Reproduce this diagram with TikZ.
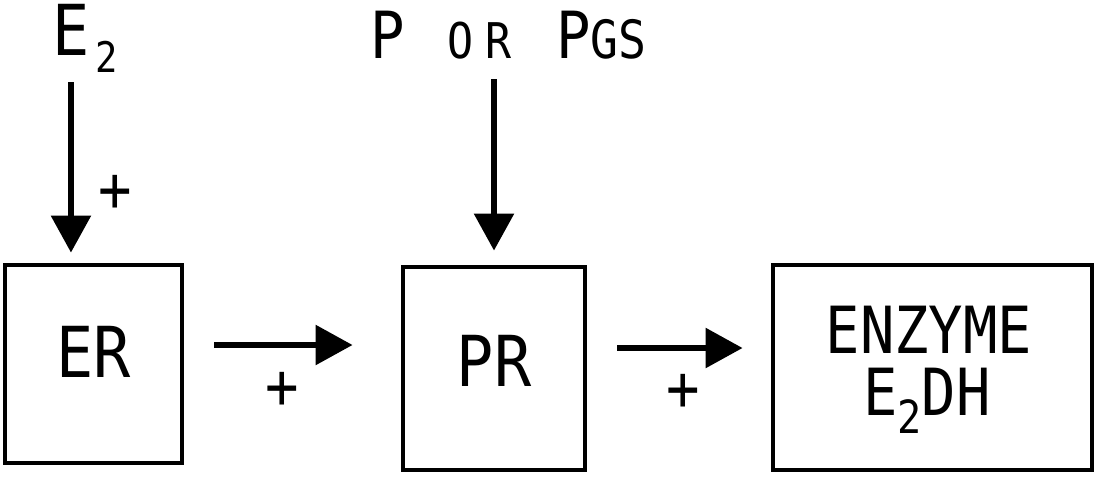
\documentclass[tikz,border=0pt]{standalone}
\usepackage{fontspec}
\newfontfamily\plotfont[FakeStretch=0.88]{DejaVu Sans Mono}
\usetikzlibrary{positioning,arrows.meta}

\newcommand{\bigtxt}{\plotfont\fontsize{40}{40}\selectfont}
\newcommand{\midtxt}{\plotfont\fontsize{37}{37}\selectfont}
\newcommand{\lowtwo}[2]{\raisebox{-#1}{\fontsize{#2}{#2}\selectfont 2}}

\begin{document}
\begin{tikzpicture}[x=0.02cm,y=-0.02cm,
        >={Triangle[length=0.74cm,width=0.78cm]},
        box/.style={draw,line width=2.8pt,inner sep=0pt},
        arr/.style={->,line width=3.3pt},
        pm/.style={inner sep=0pt,font=\plotfont\fontsize{36}{36}\selectfont}]
        \useasboundingbox (0,0) rectangle (1096,481);
        \node[box,minimum width=3.54cm,minimum height=3.96cm,text height=1.03cm,text depth=0.48cm,font=\bigtxt] (er) at (93.5,364) {ER};
        \node[box,minimum width=3.64cm,minimum height=4.06cm,text height=1.03cm,text depth=0.3cm,font=\bigtxt] (pr) at (494,368.5) {PR};
        \node[box,minimum width=6.38cm,minimum height=4.1cm] (enz) at (932.5,367.5) {};
        \node[inner sep=0pt,anchor=base,font=\midtxt] (enz1) at (929,353) {ENZYME};
        \node[inner sep=0pt,anchor=base,font=\midtxt] (enz2) at (927,415) {E\lowtwo{0.36cm}{26}DH};
        \node[inner sep=0pt,anchor=base west,font=\bigtxt] (e2) at (52,55) {E\rlap{\hspace{0.12cm}\lowtwo{0.34cm}{24}}};
        \node[inner sep=0pt,anchor=base west,font=\plotfont\fontsize{37}{37}\selectfont] (por) at (370,58)
            {P\hspace{0.85cm}{\fontsize{28}{28}\selectfont O\hspace{0.24cm}R}\hspace{0.9cm}P{\fontsize{30}{30}\selectfont GS}};
        \coordinate (lvl1) at (0,345);
        \coordinate (lvl2) at (0,348);
        \draw[arr,shorten <=0.2cm,shorten >=0.2cm] (e2.south) -- (e2.south |- er.north);
        \draw[arr,shorten <=0.4cm,shorten >=0.28cm] (por.south -| pr.north) -- (pr.north);
        \draw[arr,shorten <=0.6cm,shorten >=0.96cm] (er.east |- lvl1) -- (pr.west |- lvl1);
        \draw[arr,shorten <=0.6cm,shorten >=0.56cm] (pr.east |- lvl2) -- (enz.west |- lvl2);
        \node[pm] (plus1) at (115,193) {+};
        \node[pm] (plus2) at (282,390) {+};
        \node[pm] (plus3) at (683,392) {+};
    \end{tikzpicture}
\end{document}
